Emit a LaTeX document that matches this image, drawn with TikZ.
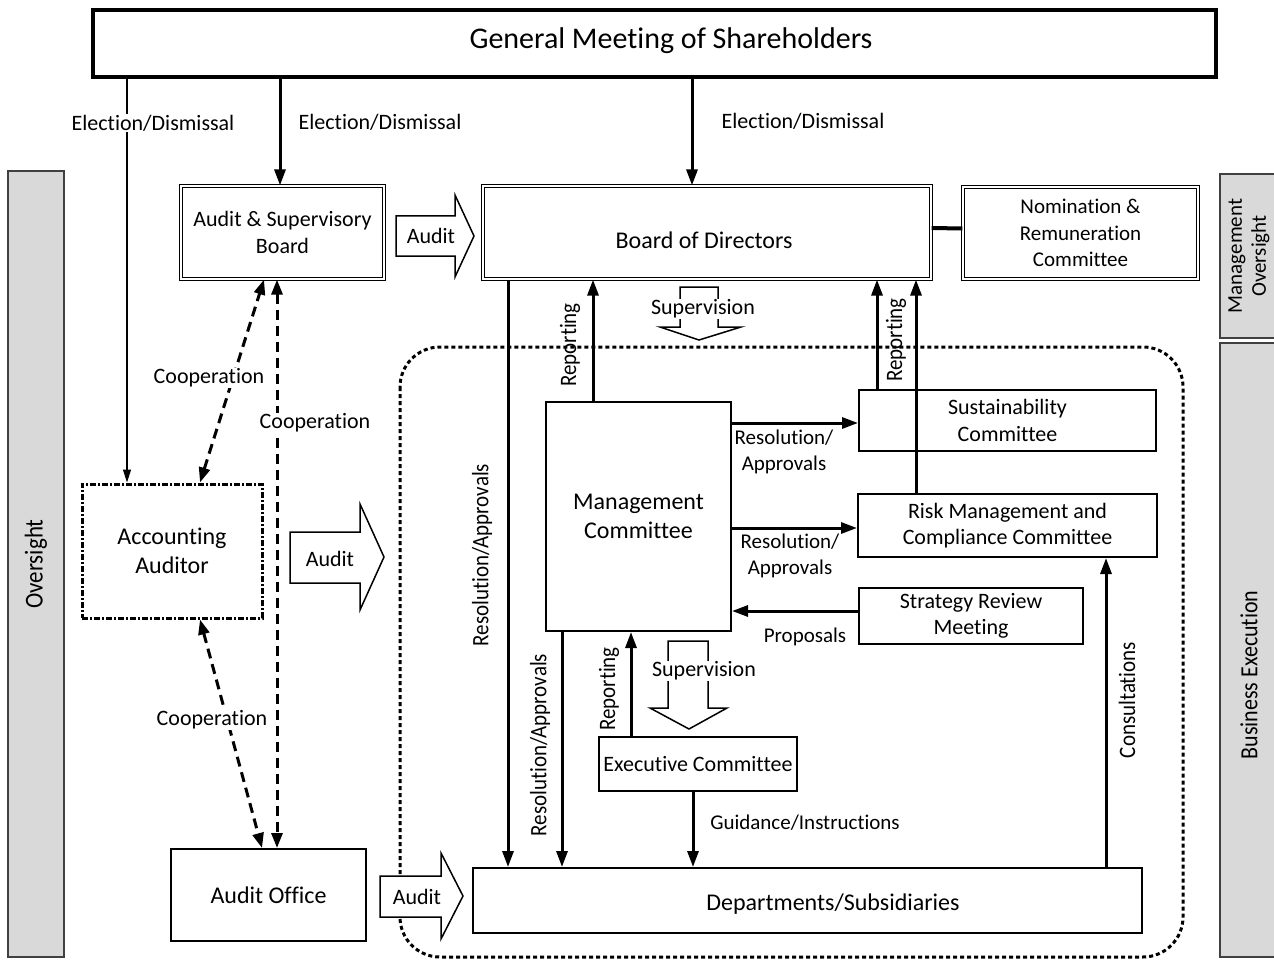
\documentclass[tikz,border=0pt]{standalone}
\usepackage{graphicx}
\usepackage{fontspec}
\setmainfont[Ligatures={NoCommon}]{Carlito}
\usetikzlibrary{arrows.meta}
\newcommand{\vstr}[1]{\scalebox{1}[1.12]{#1}}
\begin{document}
\begin{tikzpicture}[x=1pt,y=-1pt,
  font=\fontsize{22}{26.5}\selectfont,
  box/.style={draw, line width=2pt, inner sep=0pt, align=center},
  dbox/.style={draw, double, double distance=2.2pt, line width=1.2pt, inner sep=0pt, align=center},
  arr/.style={line width=3pt, -{Triangle[length=16pt,width=11pt]}},
  thinarr/.style={line width=1.5pt, -{Triangle[length=13pt,width=8pt]}},
  coop/.style={line width=3pt, dash pattern=on 10pt off 6pt, {Triangle[length=15pt,width=11pt]}-{Triangle[length=15pt,width=11pt]}},
  lbl/.style={inner sep=1pt, align=center},
  wlbl/.style={fill=white, inner sep=1pt, align=center},
  blk/.style={draw, line width=1.5pt, fill=white, line join=miter},
  graybox/.style={draw=black!75, line width=2pt, fill=black!15},
  big/.style={font=\fontsize{24}{29}\selectfont},
  rot/.style={rotate=90, inner sep=1pt, font=\fontsize{21}{25}\selectfont},
]
\useasboundingbox (0,0) rectangle (1274,960);

% side bands
\draw[graybox] (8,171) rectangle (64,957);
\node[rotate=90, font=\fontsize{23}{27}\selectfont] at (36,564) {\vstr{Oversight}};
\draw[graybox] (1220,174) rectangle (1295,338);
\node[rotate=90, align=center, font=\fontsize{21}{24}\selectfont] at (1249,256) {Management\\Oversight};
\draw[graybox] (1220,343) rectangle (1295,957);
\node[rotate=90] at (1249,675) {\vstr{Business Execution}};

% business execution region
\draw[line width=3pt, dash pattern=on 4pt off 3pt, rounded corners=40pt] (400,347) rectangle (1183,957);

% block arrows
\draw[blk] (396,216) -- (455,216) -- (455,195) -- (474,236) -- (455,277) -- (455,256) -- (396,256) -- cycle;
\draw[blk] (290,532) -- (360,532) -- (360,504) -- (384,557) -- (360,610) -- (360,583) -- (290,583) -- cycle;
\draw[blk] (380,876) -- (441,876) -- (441,853) -- (463,896) -- (441,939) -- (441,917) -- (380,917) -- cycle;
\draw[blk] (680,287) -- (718,287) -- (718,327) -- (741,327) -- (699,340) -- (660,327) -- (680,327) -- cycle;
\draw[blk] (668,641) -- (708,641) -- (708,708) -- (727,708) -- (689,729) -- (650,708) -- (668,708) -- cycle;
\node at (431,236) {Audit};
\node at (330,559) {Audit};
\node at (417,897) {Audit};
\node[wlbl] at (703,309) {Supervision};
\node[wlbl] at (704,671) {Supervision};

% boxes
\node[draw, line width=4pt, minimum width=1123pt, minimum height=67pt] (gms) at (654.5,43.5) {};
\node[font=\fontsize{30}{36}\selectfont] at (671,41) {General Meeting of Shareholders};
\node[dbox, minimum width=203pt, minimum height=93pt] (asb) at (282.5,232.5) {Audit \& Supervisory\\Board};
\node[dbox, big, minimum width=448pt, minimum height=93pt] (bod) at (707,232.5) {};
\node[big] at (704,240) {Board of Directors};
\node[dbox, minimum width=235pt, minimum height=92pt, font=\fontsize{21}{26.5}\selectfont] (nrc) at (1080.5,233) {Nomination \&\\Remuneration\\Committee};
\node[box, big, minimum width=185pt, minimum height=229pt] (mc) at (638.5,516.5) {Management\\Committee};
\node[box, minimum width=297pt, minimum height=61pt] (sus) at (1007.5,420.5) {Sustainability\\Committee};
\node[box, minimum width=299pt, minimum height=63pt] (risk) at (1007.5,525.5) {Risk Management and\\Compliance Committee};
\node[box, minimum width=224pt, minimum height=56pt] (srm) at (971,616) {Strategy Review\\Meeting};
\node[box, minimum width=198pt, minimum height=54pt] (exe) at (698,764) {Executive Committee};
\node[box, minimum width=669pt, minimum height=65pt] (dep) at (807.5,900.5) {};
\node[big] at (833,904) {Departments/Subsidiaries};
\node[draw, line width=3pt, dash pattern=on 6pt off 2pt on 2pt off 2pt, minimum width=180pt, minimum height=134pt, big, align=center] (aa) at (172,551) {Accounting\\Auditor};
\node[box, big, minimum width=195pt, minimum height=92pt] (ao) at (268.5,895) {Audit Office};

% connectors
\draw[line width=4pt] ([yshift=4.5pt]bod.east) -- ([yshift=4.5pt]nrc.west);
\draw[thinarr] (gms.south -| 127,0) -- (aa.north -| 127,0);
\draw[arr] (gms.south -| 280,0) -- (asb.north -| 280,0);
\draw[arr] (gms.south -| 692,0) -- (bod.north -| 692,0);
\draw[coop] (aa.north -| 200,0) -- (asb.south -| 264,0);
\draw[coop] (asb.south -| 277,0) -- (ao.north -| 277,0);
\draw[coop] (aa.south -| 200,0) -- (ao.north -| 262,0);
\draw[arr] (mc.north -| 593,0) -- (bod.south -| 593,0);
\draw[arr] (bod.south -| 508,0) -- (dep.north -| 508,0);
\draw[arr] (mc.south -| 562,0) -- (dep.north -| 562,0);
\draw[arr] (exe.north -| 631,0) -- (mc.south -| 631,0);
\draw[arr] (exe.south -| 693,0) -- (dep.north -| 693,0);
\draw[arr] (mc.east |- 0,423) -- (sus.west |- 0,423);
\draw[arr] (mc.east |- 0,528) -- (risk.west |- 0,528);
\draw[arr] (srm.west |- 0,611) -- (mc.east |- 0,611);
\draw[arr] (sus.north -| 877,0) -- (bod.south -| 877,0);
\draw[arr] (risk.north -| 916,0) -- (bod.south -| 916,0);
\draw[arr] (dep.north -| 1106,0) -- (risk.south -| 1106,0);

% labels
\node[wlbl] at (153,123) {Election/Dismissal};
\node[lbl] at (380,122) {Election/Dismissal};
\node[lbl] at (803,121) {Election/Dismissal};
\node[wlbl] at (209,378) {Cooperation};
\node[wlbl] at (315,423) {Cooperation};
\node[wlbl] at (212,720) {Cooperation};
\node[rot] at (570,345) {\vstr{Reporting}};
\node[rot] at (896,340) {\vstr{Reporting}};
\node[rot] at (482,555) {\vstr{Resolution/Approvals}};
\node[rot] at (540,745) {\vstr{Resolution/Approvals}};
\node[rot] at (609,689) {\vstr{Reporting}};
\node[rot] at (1127,700) {\vstr{Consultations}};
\node[lbl, font=\fontsize{21}{25.5}\selectfont] at (784,452) {Resolution/\\Approvals};
\node[lbl, font=\fontsize{21}{25.5}\selectfont] at (790,556) {Resolution/\\Approvals};
\node[lbl, font=\fontsize{21}{25.5}\selectfont] at (805,637) {Proposals};
\node[lbl, font=\fontsize{21}{25.5}\selectfont] at (805,823) {Guidance/Instructions};
\end{tikzpicture}
\end{document}
